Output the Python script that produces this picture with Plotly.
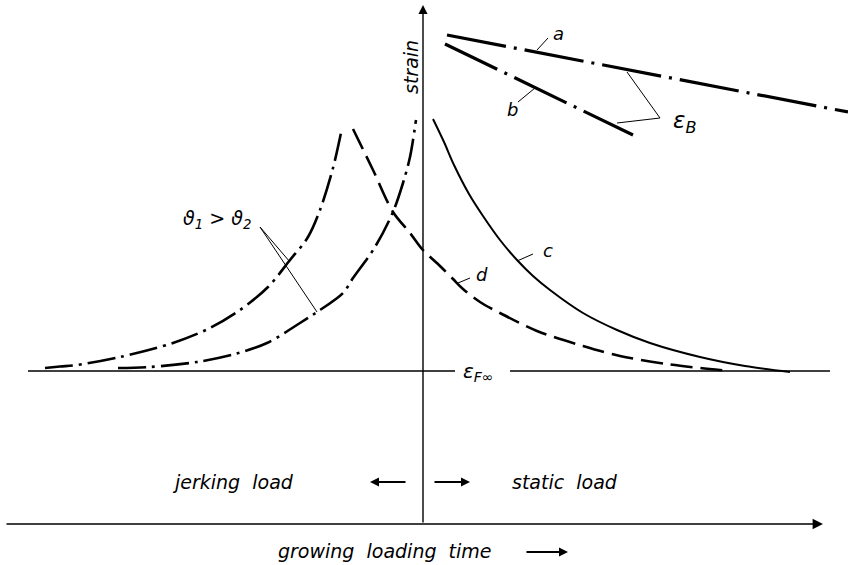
import plotly.graph_objects as go

# ---- data (canvas pixel units, y downward) ----
# theta1 curve (outer, dash-dot)
theta1_x = [45, 60, 77, 120, 173, 210, 240, 268, 290, 308, 320, 333, 342]
theta1_y = [368, 366.5, 365, 357, 343, 328, 310, 287, 260, 237, 210, 168, 128]
# theta2 curve (inner, dash-dot)
theta2_x = [118, 150, 197, 235, 267, 300, 317, 343, 353, 375, 393, 403, 410, 416]
theta2_y = [368, 367, 362, 354, 343, 323, 312, 293, 278, 247, 212, 183, 157, 120]
# curve d (dashed)
d_x = [353, 373, 393, 410, 422, 440, 453, 463, 480, 500, 537, 583, 620, 667, 700, 730]
d_y = [129, 170, 212, 233, 249, 266, 279, 289, 302, 313, 331, 346, 356, 364, 368, 371]
# curve c (solid)
c_x = [433, 444, 454, 469, 483, 500, 517, 533, 550, 583, 617, 650, 700, 745, 790]
c_y = [119, 142, 165, 194, 216, 240, 260, 276, 290, 313, 330, 343, 357, 366, 372]
# epsilon_B lines a and b
a_x = [447, 848]
a_y = [35, 112]
b_x = [445, 633]
b_y = [44, 135]
# epsilon_F-infinity baseline (two pieces around the label)
base_left_x = [28, 455]
base_right_x = [510, 830]
base_y = 371

# leader lines
leaders = [
    ([537, 548], [50, 38]),              # a
    ([518, 535], [102, 88]),             # b
    ([627, 660, 617], [72, 118, 123]),   # epsilon_B
    ([517, 533], [261, 254]),            # c
    ([458, 470], [283, 278]),            # d
    ([290, 260, 317], [262, 227, 312]),  # theta1 > theta2
]

labels = [
    ("a", 558, 33, 18, "center"),
    ("b", 512, 109, 18, "center"),
    ("c", 548, 250, 18, "center"),
    ("d", 482, 274, 18, "center"),
    ("ε<sub>B</sub>", 671, 122, 23, "left"),
    ("ε<sub>F∞</sub>", 461, 372, 20, "left"),
    ("ϑ<sub>1</sub> > ϑ<sub>2</sub>", 217, 219, 19, "center"),
    ("jerking  load", 233, 482, 19, "center"),
    ("static  load", 565, 482, 19, "center"),
    ("growing  loading  time", 385, 551, 19, "center"),
]

axis_origin = (423, 524)
axis_v_tip = (423, 5)
axis_h_start = (5, 524)
axis_h_tip = (823, 524)
small_arrows = [((370, 482), (407, 482)), ((470, 482), (433, 482)), ((568, 552), (525, 552))]

FONT = "DejaVu Sans"

fig = go.Figure()

def add_line(x, y, width, dash="solid", shape="linear"):
    line = dict(color="black", width=width, dash=dash, shape=shape)
    if shape == "spline":
        line["smoothing"] = 0.9
    fig.add_trace(go.Scatter(x=x, y=y, mode="lines", line=line,
                             hoverinfo="skip", showlegend=False))

add_line(theta1_x, theta1_y, 2.6, "28px,6px,3px,6px", "spline")
add_line(theta2_x, theta2_y, 2.6, "28px,6px,3px,6px", "spline")
add_line(d_x, d_y, 2.6, "22px,8px", "spline")
add_line(c_x, c_y, 2.0, "solid", "spline")
add_line(a_x, a_y, 3.2, "60px,8px,3px,8px")
add_line(b_x, b_y, 3.2, "58px,8px,3px,8px")
add_line(base_left_x, [base_y, base_y], 1.6)
add_line(base_right_x, [base_y, base_y], 1.6)
for lx, ly in leaders:
    add_line(lx, ly, 1.0)

annotations = []
# main axes
annotations.append(dict(x=axis_v_tip[0], y=axis_v_tip[1], ax=axis_origin[0], ay=axis_origin[1],
                        xref="x", yref="y", axref="x", ayref="y", text="", showarrow=True,
                        arrowhead=2, arrowsize=1.3, arrowwidth=1.4, arrowcolor="black"))
annotations.append(dict(x=axis_h_tip[0], y=axis_h_tip[1], ax=axis_h_start[0], ay=axis_h_start[1],
                        xref="x", yref="y", axref="x", ayref="y", text="", showarrow=True,
                        arrowhead=2, arrowsize=1.3, arrowwidth=1.6, arrowcolor="black"))
for (hx, hy), (tx, ty) in small_arrows:
    annotations.append(dict(x=hx, y=hy, ax=tx, ay=ty, xref="x", yref="y", axref="x", ayref="y",
                            text="", showarrow=True, arrowhead=2, arrowsize=1.0,
                            arrowwidth=1.8, arrowcolor="black"))
for txt, x, y, size, anchor in labels:
    annotations.append(dict(x=x, y=y, xref="x", yref="y", text=txt, showarrow=False,
                            xanchor=anchor, yanchor="middle",
                            font=dict(family=FONT, size=size, color="black", style="italic")))
annotations.append(dict(x=411, y=67, xref="x", yref="y", text="strain", showarrow=False,
                        textangle=-90, xanchor="center", yanchor="middle",
                        font=dict(family=FONT, size=19, color="black", style="italic")))

fig.update_layout(
    width=848, height=565,
    margin=dict(l=0, r=0, t=0, b=0, pad=0, autoexpand=False),
    paper_bgcolor="white", plot_bgcolor="white",
    xaxis=dict(range=[0, 848], visible=False, fixedrange=True),
    yaxis=dict(range=[565, 0], visible=False, fixedrange=True),
    annotations=annotations,
    showlegend=False,
)

fig.write_html("out.html", config={"displayModeBar": False},
               post_script="document.body.style.margin='0';document.body.style.overflow='hidden';")
